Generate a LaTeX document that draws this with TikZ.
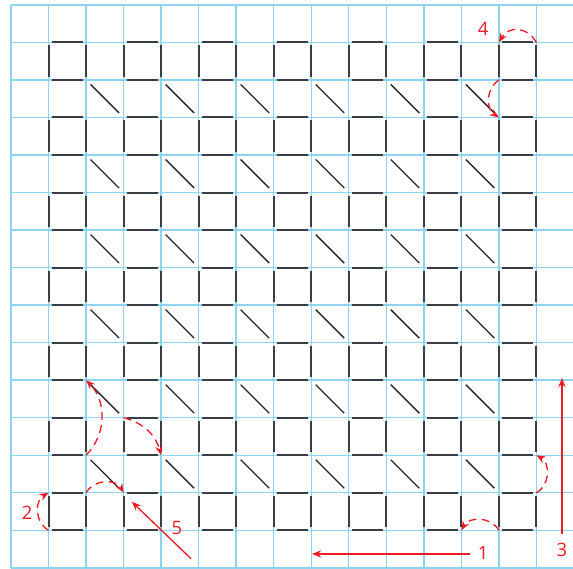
\documentclass[tikz,border=0pt]{standalone}
\usepackage{fontspec}
\setmainfont{Open Sans}
\usepackage{xcolor}
\usepackage{tikz}
\usetikzlibrary{arrows.meta}
\definecolor{gridblue}{RGB}{140,212,240}
\definecolor{markred}{RGB}{237,28,36}
\definecolor{edgegray}{RGB}{58,62,68}

\begin{document}
\begin{tikzpicture}[
  gridline/.style={gridblue,line width=1.1pt},
  edge/.style={edgegray,line width=1.5pt},
  diag/.style={black!85,line width=1pt},
  push/.style={markred,line width=1pt,-{Stealth[length=7pt,width=5.5pt]}},
  flip/.style={push,dash pattern=on 6pt off 4pt},
  num/.style={markred,font=\fontsize{14}{16}\selectfont,inner sep=1pt}]

  \useasboundingbox (-0.293,-0.027) rectangle (14.975,15.13);

  \foreach \k in {0,...,15} \draw[gridline] (0,\k) -- (15,\k);
  \foreach \k in {0,...,14} \draw[gridline] (\k,0) -- (\k,15);

  \foreach \i in {0,...,15}
    \foreach \j in {0,...,15}
      \coordinate (p\i-\j) at (\i,\j);

  \foreach \i in {1,3,...,13}
    \foreach \j in {1,3,...,13} {
      \draw[edge] (\i+0.08,\j) -- (\i+0.92,\j);
      \draw[edge] (\i+0.08,\j+1) -- (\i+0.92,\j+1);
      \draw[edge] (\i,\j+0.08) -- (\i,\j+0.92);
      \draw[edge] (\i+1,\j+0.08) -- (\i+1,\j+0.92);
    }
  \foreach \i in {2,4,...,12}
    \foreach \j in {2,4,...,12}
      \draw[diag] (\i+0.12,\j+0.88) -- (\i+0.88,\j+0.12);

  \node[num] (n1) at (12.58,0.40)  {1};
  \node[num] (n2) at (0.43,1.47)   {2};
  \node[num] (n3) at (14.68,0.48)  {3};
  \node[num] (n4) at (12.58,14.36) {4};
  \node[num] (n5) at (4.42,1.07)   {5};

  \coordinate (a1) at (12.23,0.37);
  \coordinate (b1) at (8.02,0.37);
  \coordinate (a3) at (14.68,0.90);
  \coordinate (b3) at (14.68,5.06);
  \coordinate (a5) at (4.80,0.24);
  \coordinate (b5) at (3.22,1.76);

  \draw[push] (a1) -- (b1);
  \draw[push] (a3) -- (b3);
  \draw[push] (a5) -- (b5);

  \draw[flip] (p14-14) to[bend right=60,looseness=1.3] (p13-14);
  \draw[flip] (p13-13) to[bend right=55,looseness=1.1] (p13-12);
  \draw[flip] (p1-1)   to[bend left=60,looseness=1.1]  (p1-2);
  \draw[flip] (p2-2)   to[bend left=60,looseness=1.1]  (p3-2);
  \draw[flip] (p2-3)   to[bend right=45]               (p2-5);
  \draw[flip] (p3-4)   to[bend left=30]                (p4-3);
  \draw[flip] (p13-1)  to[bend right=60,looseness=1.1] (p12-1);
  \draw[flip] (p14-2)  to[bend right=60,looseness=1.1] (p14-3);

\end{tikzpicture}
\end{document}
